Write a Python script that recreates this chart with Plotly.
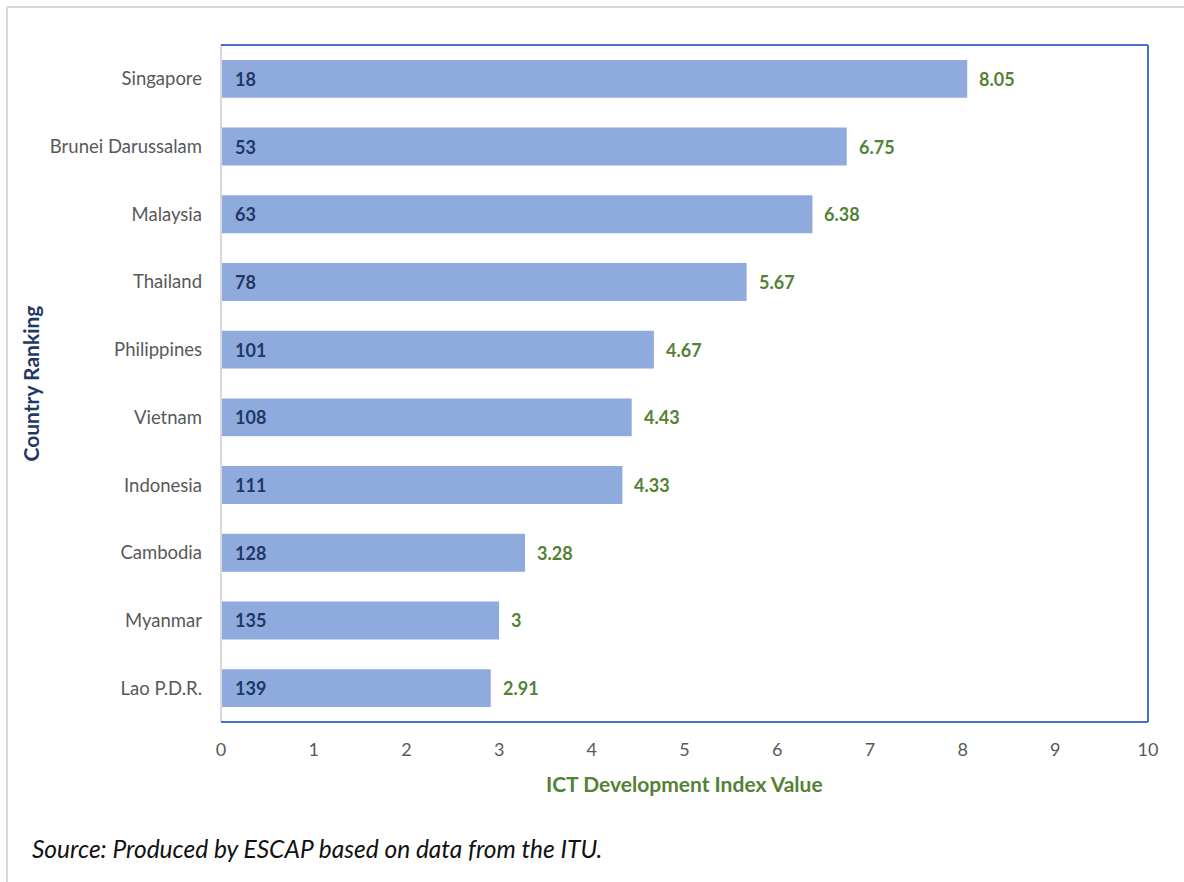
import plotly.graph_objects as go

countries = ["Singapore", "Brunei Darussalam", "Malaysia", "Thailand", "Philippines",
             "Vietnam", "Indonesia", "Cambodia", "Myanmar", "Lao P.D.R."]
ranks = [18, 53, 63, 78, 101, 108, 111, 128, 135, 139]
values = [8.05, 6.75, 6.38, 5.67, 4.67, 4.43, 4.33, 3.28, 3, 2.91]
x_ticks = [0, 1, 2, 3, 4, 5, 6, 7, 8, 9, 10]

FONT = "Lato"
BAR = "#8FAADC"
NAVY = "#1F3864"
GREEN = "#548235"
GRAY = "#595959"
BLUE = "#4472C4"

W, H = 1184, 882
L, R, T, B = 221, 36, 45, 160
pw, ph = W - L - R, H - T - B

fig = go.Figure()
fig.add_trace(go.Bar(
    x=values, y=countries, orientation="h",
    marker=dict(color=BAR, line=dict(width=0)),
    width=0.56, hoverinfo="x+y", showlegend=False,
))

ann = []
for c, r, v in zip(countries, ranks, values):
    ann.append(dict(x=0, y=c, xref="x", yref="y", text=f"<b>{r}</b>", showarrow=False,
                    xanchor="left", xshift=12, font=dict(family=FONT, size=18, color=NAVY)))
    ann.append(dict(x=v, y=c, xref="x", yref="y", text=f"<b>{v:g}</b>", showarrow=False,
                    xanchor="left", xshift=10, font=dict(family=FONT, size=18, color=GREEN)))

ann.append(dict(x=0.5, y=-(783 - (T + ph)) / ph, xref="paper", yref="paper",
                text="<b>ICT Development Index Value</b>", showarrow=False,
                xanchor="center", yanchor="middle", font=dict(family=FONT, size=21, color=GREEN)))
ann.append(dict(x=(30 - L) / pw, y=0.5, xref="paper", yref="paper",
                text="<b>Country Ranking</b>", showarrow=False, textangle=-90,
                xanchor="center", yanchor="middle", font=dict(family=FONT, size=21, color=NAVY)))
ann.append(dict(x=(30 - L) / pw, y=-(848 - (T + ph)) / ph, xref="paper", yref="paper",
                text="<i>Source: Produced by ESCAP based on data from the ITU.</i>", showarrow=False,
                xanchor="left", yanchor="middle", font=dict(family=FONT, size=24.5, color="#111111")))

def px(xp):
    return (xp - L) / pw

def py(yp):
    return (T + ph - yp) / ph

shapes = [
    # outer frame (left and top)
    dict(type="line", xref="paper", yref="paper", x0=px(7), x1=px(7), y0=py(7), y1=py(890),
         line=dict(color="#D9D9D9", width=2)),
    dict(type="line", xref="paper", yref="paper", x0=px(7), x1=px(1190), y0=py(7), y1=py(7),
         line=dict(color="#D9D9D9", width=2)),
    # plot frame
    dict(type="line", xref="paper", yref="paper", x0=0, x1=0, y0=0, y1=1,
         line=dict(color="#D9D9D9", width=2)),
    dict(type="line", xref="paper", yref="paper", x0=0, x1=1, y0=1, y1=1,
         line=dict(color=BLUE, width=2)),
    dict(type="line", xref="paper", yref="paper", x0=1, x1=1, y0=0, y1=1,
         line=dict(color=BLUE, width=2)),
    dict(type="line", xref="paper", yref="paper", x0=0, x1=1, y0=0, y1=0,
         line=dict(color=BLUE, width=2)),
]

fig.update_layout(
    width=W, height=H,
    margin=dict(l=L, r=R, t=T, b=B, pad=0),
    paper_bgcolor="white", plot_bgcolor="white",
    font=dict(family=FONT, size=18, color=GRAY),
    xaxis=dict(range=[0, 10], tickvals=x_ticks, ticktext=[str(t) for t in x_ticks],
               showgrid=False, zeroline=False, showline=False,
               tickfont=dict(family=FONT, size=18, color=GRAY), ticklabelstandoff=15,
               fixedrange=True),
    yaxis=dict(categoryorder="array", categoryarray=countries, autorange="reversed",
               showgrid=False, zeroline=False, showline=False,
               tickfont=dict(family=FONT, size=18.5, color=GRAY), ticklabelstandoff=18,
               fixedrange=True),
    annotations=ann,
    shapes=shapes,
    bargap=0.44,
)

fig.write_html("out.html", config={"displayModeBar": False},
               post_script="document.body.style.margin='0';document.body.style.overflow='hidden';")
